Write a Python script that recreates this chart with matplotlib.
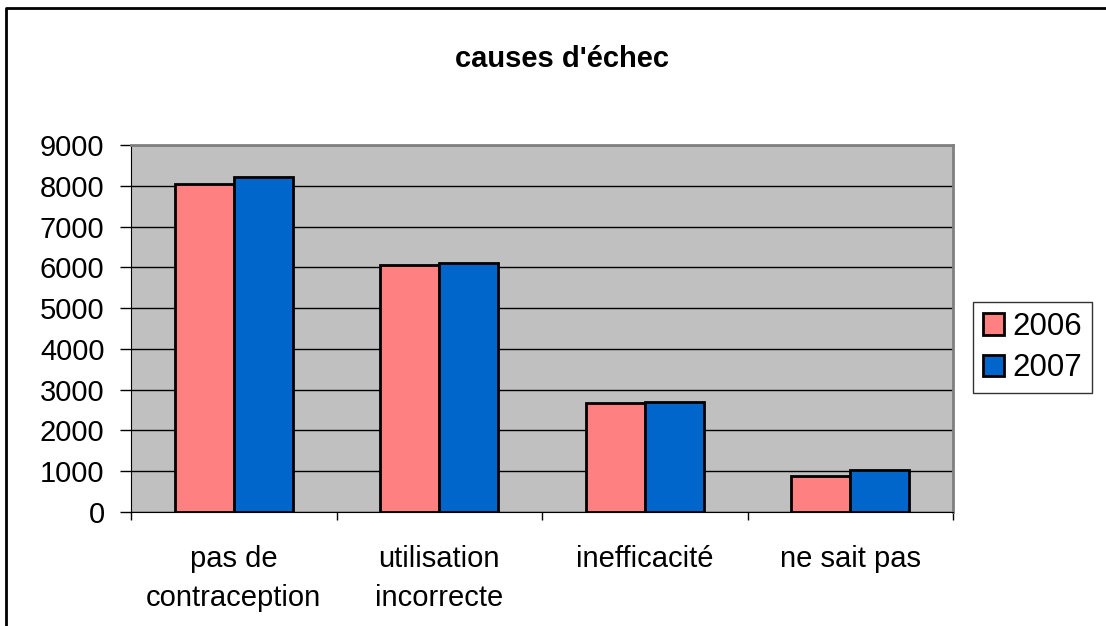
import numpy as np
import matplotlib
matplotlib.use("Agg")
import matplotlib.pyplot as plt
from matplotlib.lines import Line2D

plt.rcParams['font.family'] = ['Liberation Sans', 'DejaVu Sans']

# data
categories = ["pas de\ncontraception", "utilisation\nincorrecte", "inefficacité", "ne sait pas"]
values_2006 = [8040, 6050, 2680, 880]
values_2007 = [8220, 6110, 2690, 1020]
series_names = ["2006", "2007"]
yticks = list(range(0, 10000, 1000))

W, H = 1106, 626
fig = plt.figure(figsize=(W / 100, H / 100), dpi=100)
fig.patch.set_facecolor("white")

ax = fig.add_axes([131 / W, 1 - 512 / H, (953 - 131) / W, (512 - 145) / H])
ax.set_facecolor("#C0C0C0")

x = np.arange(len(categories))
bw = 0.287
ax.bar(x - bw / 2, values_2006, bw, color="#FF8080", edgecolor="black", linewidth=2, zorder=3, label=series_names[0])
ax.bar(x + bw / 2, values_2007, bw, color="#0066CC", edgecolor="black", linewidth=2, zorder=3, label=series_names[1])

ax.set_xlim(-0.5, len(categories) - 0.5)
ax.set_ylim(0, 9000)
ax.set_yticks(yticks)
ax.set_yticklabels([str(v) for v in yticks], fontsize=21)
ax.yaxis.grid(True, color="black", linewidth=1, zorder=1)
ax.set_axisbelow(True)

# category labels centered, tick marks on boundaries
ax.set_xticks(x)
ax.set_xticklabels(categories, fontsize=21, linespacing=1.47)
ax.tick_params(axis="x", length=0, pad=24)
ax.set_xticks(np.arange(-0.5, len(categories), 1), minor=True)
ax.tick_params(axis="x", which="minor", length=6, width=1, color="black", direction="out")
ax.tick_params(axis="y", length=8, width=1, color="black", direction="out", pad=11)

for s in ["top", "right"]:
    ax.spines[s].set_color("#808080")
    ax.spines[s].set_linewidth(2)
ax.spines["left"].set_color("black")
ax.spines["bottom"].set_color("black")

# chart area is wider than the visible image, so the title sits right of the plot center
fig.text(562 / W, 1 - 59 / H, "causes d'échec", ha="center", va="center", fontsize=21, fontweight="bold")

leg = ax.legend(loc="upper left", bbox_to_anchor=(973 / W, 1 - 302 / H), bbox_transform=fig.transFigure,
                fontsize=22.5, frameon=True, fancybox=False, edgecolor="black", handlelength=0.67,
                handleheight=0.67, handletextpad=0.26, borderpad=0.32, labelspacing=0.36, borderaxespad=0)
leg.get_frame().set_linewidth(1)

# outer chart-area border (only left and top visible)
fig.add_artist(Line2D([6 / W, 6 / W, 1.0], [0.0, 1 - 8 / H, 1 - 8 / H], color="black", linewidth=2, transform=fig.transFigure))

fig.savefig("out.png", dpi=100, facecolor="white")
